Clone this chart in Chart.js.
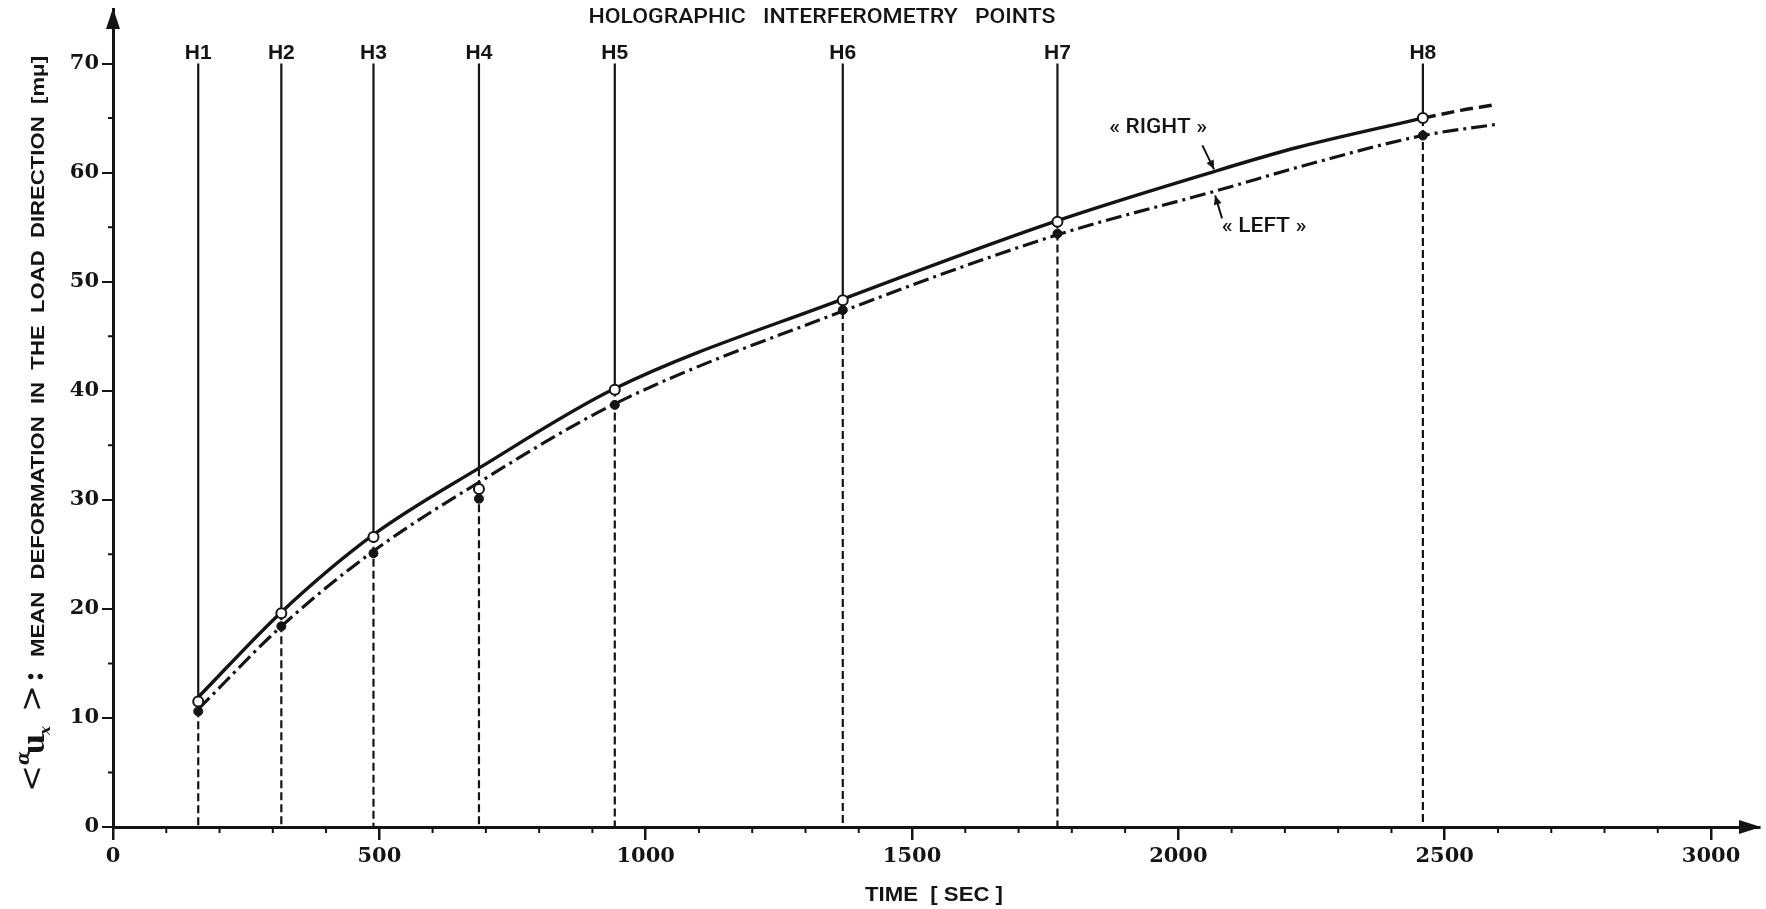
<!DOCTYPE html>
<html>
<head>
<meta charset="utf-8">
<script src="https://cdn.jsdelivr.net/npm/chart.js@4.4.1/dist/chart.umd.min.js"></script>
<style>
  html, body { margin: 0; padding: 0; background: #ffffff; }
  #wrap { width: 1766px; height: 909px; }
</style>
</head>
<body>
<div id="wrap"><canvas id="c" width="1766" height="909"></canvas></div>
<script>
// Holographic interferometry reading times (s) and their labels
const hLabels = ['H1', 'H2', 'H3', 'H4', 'H5', 'H6', 'H7', 'H8'];
const hTimes = [160, 316, 489, 687, 942, 1370, 1773, 2459];

// Mean deformation measured at each reading (mμ)
const rightPoints = [11.5, 19.6, 26.6, 31.0, 40.1, 48.3, 55.5, 65.0];
const leftPoints  = [10.6, 18.4, 25.1, 30.1, 38.7, 47.4, 54.4, 63.4];

// Smoothed curves through the readings
const rightCurveT = [160, 316, 489, 687, 942, 1370, 1773, 2067, 2223, 2459];
const rightCurveV = [11.9, 19.7, 26.8, 32.9, 40.2, 48.4, 55.6, 60.1, 62.3, 65.0];
const rightExtT = [2459, 2530, 2591];
const rightExtV = [65.0, 65.7, 66.2];
const leftCurveT = [160, 316, 489, 687, 942, 1370, 1773, 2069, 2255, 2459, 2594];
const leftCurveV = [10.8, 18.4, 25.3, 31.6, 38.8, 47.3, 54.3, 58.3, 60.9, 63.4, 64.4];

// Axis ticks
const xTicks = [0, 500, 1000, 1500, 2000, 2500, 3000];
const yTicks = [0, 10, 20, 30, 40, 50, 60, 70];
const xMinorStep = 100;
const yMinorStep = 5;
const markerTop = 70;

// Curve annotations: label anchor and arrow (time, value)
const rightNote = { text: '« RIGHT »', at: [1962, 64.1], from: [2045, 62.5], to: [2067, 60.3] };
const leftNote  = { text: '« LEFT »',  at: [2161, 55.0], from: [2082, 55.8], to: [2069, 57.9] };

const INK = '#141414';
const SERIF = '"DejaVu Serif", "Liberation Serif", serif';
const SANS = '"Liberation Sans", Arial, sans-serif';

function pts(t, v) { return t.map((x, i) => ({ x: x, y: v[i] })); }

// Marker lines: solid from the top down to the "right" reading, dashed down to the axis
const vSolid = [], vDash = [];
hTimes.forEach((t, i) => {
  const k = rightCurveT.indexOf(t);
  const bottom = Math.max(rightPoints[i], k >= 0 ? rightCurveV[k] : rightPoints[i]);
  vSolid.push({ x: t, y: markerTop }, { x: t, y: bottom }, { x: t, y: null });
  vDash.push({ x: t, y: bottom }, { x: t, y: 0 }, { x: t, y: null });
});

function fitText(ctx, text, cx, cy, width, font) {
  ctx.save();
  ctx.font = font;
  const m = ctx.measureText(text).width;
  ctx.translate(cx, cy);
  ctx.scale(width / m, 1);
  ctx.textAlign = 'center';
  ctx.textBaseline = 'middle';
  ctx.fillText(text, 0, 0);
  ctx.restore();
}

function arrowHead(ctx, x0, y0, x1, y1, len, half) {
  const a = Math.atan2(y1 - y0, x1 - x0);
  ctx.beginPath();
  ctx.moveTo(x1, y1);
  ctx.lineTo(x1 - len * Math.cos(a) + half * Math.sin(a), y1 - len * Math.sin(a) - half * Math.cos(a));
  ctx.lineTo(x1 - len * Math.cos(a) - half * Math.sin(a), y1 - len * Math.sin(a) + half * Math.cos(a));
  ctx.closePath();
  ctx.fill();
}

const decorations = {
  id: 'decorations',
  afterDraw(chart) {
    const ctx = chart.ctx;
    const xs = chart.scales.x, ys = chart.scales.y;
    const area = chart.chartArea;
    ctx.save();
    ctx.fillStyle = INK;
    ctx.strokeStyle = INK;

    // minor ticks
    ctx.lineWidth = 2;
    ctx.beginPath();
    for (let v = xMinorStep; v <= xs.max; v += xMinorStep) {
      if (v % 500 === 0) continue;
      const px = xs.getPixelForValue(v);
      ctx.moveTo(px, area.bottom);
      ctx.lineTo(px, area.bottom + 6);
    }
    for (let v = yMinorStep; v < 75; v += 10) {
      const py = ys.getPixelForValue(v);
      ctx.moveTo(area.left, py);
      ctx.lineTo(area.left - 5, py);
    }
    ctx.stroke();

    // axis arrows
    ctx.beginPath();
    ctx.moveTo(area.left, area.top - 1);
    ctx.lineTo(area.left - 7, area.top + 20);
    ctx.lineTo(area.left + 7, area.top + 20);
    ctx.closePath();
    ctx.fill();
    ctx.beginPath();
    ctx.moveTo(area.right + 2, area.bottom);
    ctx.lineTo(area.right - 20, area.bottom - 7);
    ctx.lineTo(area.right - 20, area.bottom + 7);
    ctx.closePath();
    ctx.fill();

    // H labels above the marker lines
    ctx.font = 'bold 21px ' + SANS;
    ctx.textAlign = 'center';
    ctx.textBaseline = 'middle';
    hTimes.forEach((t, i) => {
      ctx.fillText(hLabels[i], xs.getPixelForValue(t), 53);
    });

    // headings
    fitText(ctx, 'HOLOGRAPHIC   INTERFEROMETRY   POINTS', 822, 18, 467, '500 20px Roboto, ' + SANS);
    fitText(ctx, 'TIME  [ SEC ]', 934, 895, 138, 'bold 20px ' + SANS);

    // curve annotations
    [rightNote, leftNote].forEach(n => {
      const w = n === rightNote ? 98 : 85;
      fitText(ctx, n.text, xs.getPixelForValue(n.at[0]), ys.getPixelForValue(n.at[1]), w, '500 20px Roboto, ' + SANS);
      const x0 = xs.getPixelForValue(n.from[0]), y0 = ys.getPixelForValue(n.from[1]);
      const x1 = xs.getPixelForValue(n.to[0]), y1 = ys.getPixelForValue(n.to[1]);
      ctx.lineWidth = 2;
      ctx.beginPath();
      ctx.moveTo(x0, y0);
      ctx.lineTo(x1, y1);
      ctx.stroke();
      arrowHead(ctx, x0, y0, x1, y1, 9, 4);
    });

    // vertical axis title
    ctx.save();
    ctx.translate(44, 790);
    ctx.rotate(-Math.PI / 2);
    ctx.textAlign = 'left';
    ctx.textBaseline = 'alphabetic';
    ctx.font = '32px ' + SERIF;
    ctx.fillText('<', -2, -2);
    ctx.font = 'italic bold 18px ' + SERIF;
    ctx.fillText('α', 25, -15);
    ctx.font = 'bold 30px ' + SERIF;
    ctx.fillText('u', 35, 0);
    ctx.font = 'italic bold 15px ' + SERIF;
    ctx.fillText('x', 55, 6);
    ctx.font = '32px ' + SERIF;
    ctx.fillText('>', 78, -2);
    ctx.font = 'bold 30px ' + SERIF;
    ctx.fillText(':', 108, -1);
    const small = 'MEAN  DEFORMATION  IN  THE  LOAD  DIRECTION  [mμ]';
    ctx.font = 'bold 19px ' + SANS;
    const sw = ctx.measureText(small).width;
    ctx.translate(133, 0);
    ctx.scale(601 / sw, 1);
    ctx.fillText(small, 0, 0);
    ctx.restore();

    ctx.restore();
  }
};

const chart = new Chart(document.getElementById('c'), {
  type: 'scatter',
  data: {
    datasets: [
      { // right readings: open circles
        data: pts(hTimes, rightPoints), order: 0, showLine: false,
        pointRadius: 5, pointBackgroundColor: '#ffffff', pointBorderColor: INK, pointBorderWidth: 2
      },
      { // left readings: filled circles
        data: pts(hTimes, leftPoints), order: 0, showLine: false,
        pointRadius: 4.5, pointBackgroundColor: INK, pointBorderColor: INK, pointBorderWidth: 1
      },
      { // right curve
        data: pts(rightCurveT, rightCurveV), order: 1, showLine: true, pointRadius: 0,
        borderColor: INK, borderWidth: 3.4, cubicInterpolationMode: 'monotone'
      },
      { // right curve, extrapolated
        data: pts(rightExtT, rightExtV), order: 1, showLine: true, pointRadius: 0,
        borderColor: INK, borderWidth: 3.4, borderDash: [13, 6], cubicInterpolationMode: 'monotone'
      },
      { // left curve
        data: pts(leftCurveT, leftCurveV), order: 1, showLine: true, pointRadius: 0,
        borderColor: INK, borderWidth: 3.2, borderDash: [16, 5, 3, 5], cubicInterpolationMode: 'monotone'
      },
      { // marker lines, upper part
        data: vSolid, order: 2, showLine: true, spanGaps: false, pointRadius: 0,
        borderColor: INK, borderWidth: 2.2
      },
      { // marker lines, lower part
        data: vDash, order: 2, showLine: true, spanGaps: false, pointRadius: 0,
        borderColor: INK, borderWidth: 2.2, borderDash: [8, 4]
      }
    ]
  },
  options: {
    responsive: false,
    animation: false,
    devicePixelRatio: 1,
    layout: { padding: { left: 0, right: 3, top: 9, bottom: 0 } },
    plugins: { legend: { display: false }, tooltip: { enabled: false } },
    scales: {
      x: {
        type: 'linear', min: 0, max: 3090,
        afterBuildTicks: s => { s.ticks = xTicks.map(v => ({ value: v })); },
        afterFit: s => { s.height = 82; s.paddingLeft = 0; s.paddingRight = 0; },
        grid: { drawOnChartArea: false, drawTicks: true, tickLength: 13, color: INK, lineWidth: 2.5 },
        border: { display: true, color: INK, width: 3 },
        ticks: {
          color: INK, padding: 4, maxRotation: 0, autoSkip: false,
          callback: v => String(v),
          font: { family: SERIF, weight: 'bold', size: 21 }
        }
      },
      y: {
        type: 'linear', min: 0, max: 75,
        afterBuildTicks: s => { s.ticks = yTicks.map(v => ({ value: v })); },
        afterFit: s => { s.width = 113; s.paddingTop = 0; s.paddingBottom = 0; },
        grid: { drawOnChartArea: false, drawTicks: true, tickLength: 11, color: INK, lineWidth: 2 },
        border: { display: true, color: INK, width: 3 },
        ticks: {
          color: INK, padding: 3, autoSkip: false,
          callback: v => String(v),
          font: { family: SERIF, weight: 'bold', size: 21 }
        }
      }
    }
  },
  plugins: [decorations]
});
</script>
</body>
</html>
